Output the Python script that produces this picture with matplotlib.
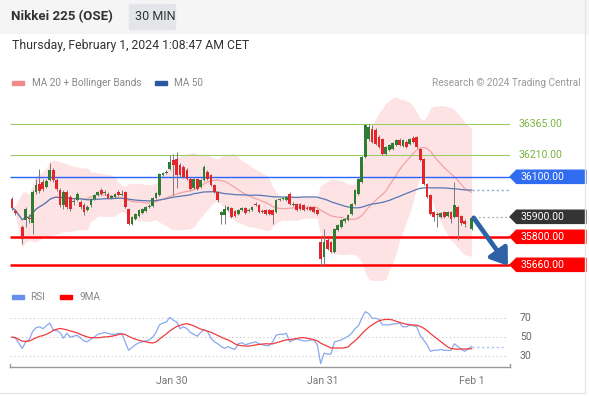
import numpy as np
import pandas as pd
import matplotlib
matplotlib.use("Agg")
import matplotlib.pyplot as plt
from matplotlib.patches import Polygon, Rectangle
from matplotlib.lines import Line2D
from matplotlib.transforms import blended_transform_factory

plt.rcParams["font.family"] = ["Roboto", "DejaVu Sans"]

W, H = 589, 396
nan = np.nan

# 30-minute candles (gaps = session breaks)
opens = [35990, 35930, nan, 35850, 35885, 35895, 35870, 36025, 36065, 36075,
         36050, 36085, 36135, 36085, 36035, 35960, 36025, 36000, 35975, 35985,
         35975, 35960, 35935, 35960, 35990, 36010, 36035, 36020, 36015, 35995,
         36000, 36025, 36010, 36025, 35940, 35865, 35890, 35905, 35920, 35930,
         35950, 35955, 35995, 36010, 36110, 36120, 36140, 36185, 36190, 36160,
         36150, 36135, 36090, 36045, 36090, 36050, 36085, 36125, 36110, 36060,
         36025, 35910, 35910, 35935, 35945, 35930, 35915, 35935, 35945, 35930,
         35935, 35965, 35960, 35930, 35935, 35935, 35935, 35925, 35985, 35990,
         35985, 36015, 35960, 35965, 35965, 35960, 35945, 35950, 35950, 35935,
         35775, 35700, 35785, 35775, 35725, 35835, 35850, 35880, 35885, 35915,
         35965, 36015, 36075, 36200, 36290, 36340, 36335, 36300, 36290, 36215,
         36235, 36240, 36260, 36285, 36255, 36275, 36265, 36295, 36300, 36240,
         36190, 36065, 36010, 35925, 35915, 35900, 35925, 35905, 35925, 35900,
         35950, 35905, 35880, nan, 35840]
highs = [36000, 35940, nan, 35860, 35950, 35915, 36035, 36090, 36140, 36090,
         36090, 36170, 36145, 36095, 36045, 36035, 36035, 36010, 35995, 36025,
         35985, 35970, 35960, 35995, 36015, 36030, 36045, 36035, 36025, 36010,
         36020, 36035, 36035, 36030, 35945, 35905, 35920, 35940, 35945, 35955,
         35965, 36000, 36025, 36120, 36125, 36135, 36210, 36215, 36225, 36170,
         36160, 36145, 36100, 36095, 36095, 36090, 36160, 36135, 36115, 36065,
         36030, 35930, 35960, 35955, 35950, 35935, 35940, 35950, 35950, 35945,
         35955, 35975, 35965, 35940, 35940, 35940, 35940, 35990, 35995, 36000,
         36005, 36025, 35975, 35970, 35970, 35965, 35955, 35955, 35955, 35940,
         35800, 35840, 35795, 35780, 35845, 35865, 35890, 35895, 35915, 35970,
         36040, 36095, 36205, 36365, 36365, 36360, 36345, 36310, 36295, 36255,
         36265, 36275, 36290, 36295, 36290, 36285, 36295, 36305, 36305, 36245,
         36195, 36070, 36015, 35930, 35925, 35925, 35930, 35930, 35930, 36075,
         35955, 35910, 35890, nan, 35900]
lows = [35935, 35910, nan, 35765, 35850, 35870, 35815, 36015, 36020, 36030,
        36045, 36080, 36075, 36030, 35950, 35940, 35940, 35930, 35960, 35980,
        35940, 35910, 35930, 35950, 35985, 36005, 36010, 36010, 35990, 35990,
        35995, 36005, 36005, 35945, 35860, 35860, 35885, 35900, 35915, 35925,
        35945, 35950, 35990, 36005, 36105, 36115, 36135, 36010, 36045, 36100,
        36095, 36085, 36035, 36040, 36035, 36045, 36080, 36085, 36055, 36020,
        35975, 35865, 35865, 35930, 35895, 35900, 35910, 35930, 35915, 35925,
        35930, 35955, 35920, 35920, 35910, 35910, 35865, 35920, 35980, 35985,
        35980, 35960, 35955, 35930, 35935, 35930, 35935, 35930, 35920, 35910,
        35655, 35660, 35735, 35720, 35720, 35830, 35845, 35870, 35880, 35910,
        35960, 36010, 36070, 36195, 36280, 36270, 36260, 36245, 36210, 36210,
        36230, 36235, 36255, 36255, 36250, 36245, 36260, 36270, 36245, 36180,
        36060, 35995, 35910, 35880, 35850, 35895, 35895, 35900, 35870, 35895,
        35785, 35860, 35850, nan, 35835]
closes = [35945, 35920, nan, 35790, 35940, 35890, 36025, 36060, 36030, 36040,
          36080, 36135, 36085, 36040, 35960, 36025, 35950, 35940, 35980, 36015,
          35950, 35925, 35950, 35990, 36010, 36025, 36015, 36025, 35995, 36005,
          36015, 36010, 36015, 35950, 35865, 35900, 35915, 35935, 35940, 35950,
          35955, 35995, 36020, 36115, 36120, 36125, 36175, 36160, 36110, 36110,
          36100, 36090, 36040, 36090, 36040, 36085, 36150, 36090, 36060, 36025,
          35985, 35925, 35940, 35950, 35900, 35905, 35935, 35945, 35920, 35935,
          35950, 35960, 35925, 35925, 35915, 35915, 35910, 35985, 35990, 35995,
          36000, 35965, 35965, 35935, 35940, 35935, 35940, 35935, 35925, 35915,
          35690, 35775, 35740, 35725, 35840, 35860, 35885, 35890, 35910, 35965,
          36035, 36090, 36200, 36360, 36350, 36275, 36265, 36250, 36215, 36250,
          36260, 36270, 36285, 36260, 36285, 36250, 36290, 36275, 36250, 36185,
          36065, 36000, 35915, 35900, 35910, 35920, 35900, 35925, 35890, 35960,
          35900, 35870, 35865, nan, 35895]
rsi = [50, 49, nan, 38, 45, 47, 56, 60, 61, 59,
       62, 65, 58, 57, 55, 49, 54, 50, 51, 52,
       49, 46, 45, 48, 50, 53, 54, 55, 54, 53,
       53, 54, 54, 45, 36, 39, 42, 44, 45, 46,
       47, 50, 55, 63, 65, 66, 71, 68, 66, 59,
       61, 59, 55, 53, 51, 55, 58, 56, 49, 45,
       43, 40, 38, 40, 38, 37, 43, 44, 42, 43,
       44, 45, 43, 42, 41, 41, 45, 52, 53, 53,
       54, 45, 47, 48, 47, 46, 46, 47, 47, 42,
       22, 33, 32, 32, 45, 46, 47, 49, 51, 54,
       59, 62, 70, 77, 75, 70, 70, 69, 63, 63,
       63, 64, 64, 65, 61, 61, 63, 62, 61, 52,
       47, 42, 35, 36, 36, 37, 36, 36, 36, 43,
       40, 37, 35, nan, 40]

levels = [36365, 36210, 36100, 35900, 35800, 35660]
level_text = ["36365.00", "36210.00", "36100.00", "35900.00", "35800.00", "35660.00"]
level_kind = ["green", "green", "blue", "last", "red", "red"]
rsi_levels = [30, 50, 70]
tick_idx = [46.6, 90.5, 134]
tick_labels = ["Jan 30", "Jan 31", "Feb 1"]
arrow_from = (134.6, 35895)
arrow_to = (144.6, 35655)

df = pd.DataFrame({"o": opens, "h": highs, "l": lows, "c": closes, "rsi": rsi})
bars = df.dropna()
ma20 = bars["c"].rolling(20, min_periods=1).mean()
sd20 = bars["c"].rolling(20, min_periods=1).std(ddof=0)
upper = ma20 + 2 * sd20
lower = ma20 - 2 * sd20
ma50 = bars["c"].rolling(50, min_periods=1).mean()
rsi_ma = bars["rsi"].rolling(9, min_periods=1).mean()

fig = plt.figure(figsize=(W / 100, H / 100), dpi=100)
fig.patch.set_facecolor("white")

# header band and frame
fig.add_artist(Rectangle((0, 1 - 33 / H), 1, 33 / H, transform=fig.transFigure,
                         color="#f5f5f5", zorder=0))
fig.add_artist(Rectangle((129 / W, 1 - 29 / H), 46 / W, 25 / H, transform=fig.transFigure,
                         color="#e3e5e8", zorder=1))
fig.add_artist(Line2D([585 / W, 585 / W], [1 - 393 / H, 1], transform=fig.transFigure,
                      color="#e6e6e6", lw=1))
fig.add_artist(Line2D([0, 585 / W], [1 - 393 / H, 1 - 393 / H], transform=fig.transFigure,
                      color="#e6e6e6", lw=1))

fig.text(11 / W, 1 - 17 / H, "Nikkei 225 (OSE)", fontsize=9.5, weight="bold",
         color="#333333", va="center")
fig.text(135 / W, 1 - 17 / H, "30 MIN", fontsize=9, color="#333333", va="center")
fig.text(12 / W, 1 - 45.5 / H, "Thursday, February 1, 2024 1:08:47 AM CET",
         fontsize=8.8, color="#333333", va="center")

# legends
fig.add_artist(Rectangle((12 / W, 1 - 85 / H), 12 / W, 4 / H, transform=fig.transFigure,
                         color="#f28c8c"))
fig.text(32 / W, 1 - 83 / H, "MA 20 + Bollinger Bands", fontsize=7.2, color="#888888", va="center")
fig.add_artist(Rectangle((155 / W, 1 - 85 / H), 12 / W, 4 / H, transform=fig.transFigure,
                         color="#2c5aa0"))
fig.text(174 / W, 1 - 83 / H, "MA 50", fontsize=7.2, color="#888888", va="center")
fig.text(581 / W, 1 - 83 / H, "Research \u00a9 2024 Trading Central", fontsize=7.2,
         color="#999999", va="center", ha="right")

fig.add_artist(Rectangle((12 / W, 1 - 299 / H), 12 / W, 4 / H, transform=fig.transFigure,
                         color="#6a8fea"))
fig.text(30 / W, 1 - 297 / H, "RSI", fontsize=7.2, color="#888888", va="center")
fig.add_artist(Rectangle((60 / W, 1 - 299 / H), 12 / W, 4 / H, transform=fig.transFigure,
                         color="#ff0000"))
fig.text(80 / W, 1 - 297 / H, "9MA", fontsize=7.2, color="#888888", va="center")

# price panel
ax = fig.add_axes([10 / W, 1 - 280 / H, 500 / W, 188 / H])
ax.set_xlim(-0.58, 145.2)
ax.set_ylim(35584, 36524)
ax.axis("off")

ax.fill_between(bars.index, lower, upper, color="#fde3e3", lw=0, zorder=1)
ax.plot(bars.index, ma20, color="#f4a3a3", lw=0.9, zorder=2)
ax.plot(bars.index, ma50, color="#5877b5", lw=0.9, zorder=2)
ax.plot([bars.index[-1], 145.2], [ma50.iloc[-1]] * 2, color="#8aa6dc", lw=1, ls=(0, (1.5, 2)), zorder=2)

line_style = {"green": ("#9ccc65", 0.8, "-"), "blue": ("#2962ff", 1.0, "-"),
              "red": ("#ff0000", 1.8, "-"), "last": ("#aaaaaa", 0.9, (0, (1.5, 2)))}
box_color = {"blue": "#2f6cf0", "last": "#333333", "red": "#ff0000"}
bt = blended_transform_factory(ax.transAxes, ax.transData)
for lvl, txt, kind in zip(levels, level_text, level_kind):
    col, lw, ls = line_style[kind]
    x0 = bars.index[-1] + 0.6 if kind == "last" else -0.58
    ax.plot([x0, 145.2], [lvl, lvl], color=col, lw=lw, ls=ls, zorder=2.5, solid_capstyle="butt")
    if kind == "green":
        ax.text(1.018, lvl, txt, transform=bt, fontsize=7.6, color="#7cb342",
                va="center", ha="left", clip_on=False)
    else:
        hh = 33
        pts = [(1.0, lvl), (1.013, lvl + hh), (1.152, lvl + hh), (1.152, lvl - hh), (1.013, lvl - hh)]
        ax.add_patch(Polygon(pts, closed=True, transform=bt, color=box_color[kind],
                             clip_on=False, zorder=5))
        ax.text(1.022, lvl, txt, transform=bt, fontsize=7.6, color="white",
                va="center", ha="left", clip_on=False, zorder=6)

up = bars["c"] >= bars["o"]
body_lo = np.minimum(bars["o"], bars["c"])
body_h = np.maximum((bars["c"] - bars["o"]).abs(), 4)
ax.vlines(bars.index, bars["l"], bars["h"], color="#7a7a7a", lw=0.7, zorder=3)
ax.bar(bars.index, body_h, bottom=body_lo, width=0.8,
       color=np.where(up, "#2e7d32", "#e3262b"), zorder=4)

ax.annotate("", xy=arrow_to, xytext=arrow_from,
            arrowprops=dict(arrowstyle="-|>,head_length=0.6,head_width=0.42",
                            color="#2d62a6", lw=3.4, mutation_scale=16,
                            shrinkA=0, shrinkB=0), zorder=7, annotation_clip=False)

# RSI panel
ax2 = fig.add_axes([10 / W, 1 - 367.3 / H, 500 / W, 62.3 / H])
ax2.set_xlim(-0.58, 145.2)
ax2.set_ylim(18.0, 84.1)
for s in ["top", "right", "left"]:
    ax2.spines[s].set_visible(False)
ax2.spines["bottom"].set_color("#999999")
ax2.spines["bottom"].set_linewidth(1.0)
ax2.set_yticks([])
ax2.set_xticks(tick_idx, tick_labels)
ax2.tick_params(axis="x", length=0, pad=6, labelsize=7.5, labelcolor="#777777")
for xe in (0, 1):
    ax2.plot([xe, xe], [0, 0.06], transform=ax2.transAxes, color="#999999", lw=1.0, clip_on=False)

for lv in rsi_levels:
    ax2.plot([-0.58, 143.7], [lv, lv], color="#c4c4c4", lw=0.8, ls=(0, (1, 2.5)), zorder=1)
    ax2.text(1.02, lv, str(lv), transform=blended_transform_factory(ax2.transAxes, ax2.transData),
             fontsize=7.5, color="#666666", va="center", ha="left")

ax2.plot(bars.index, bars["rsi"], color="#8aa8f0", lw=0.9, zorder=2)
ax2.plot(bars.index, rsi_ma, color="#f03c3c", lw=0.9, zorder=3)
ax2.plot([bars.index[-1], 143.7], [bars["rsi"].iloc[-1]] * 2, color="#a9bff3", lw=1,
         ls=(0, (1.5, 2)), zorder=2)

fig.savefig("out.png", dpi=100)
